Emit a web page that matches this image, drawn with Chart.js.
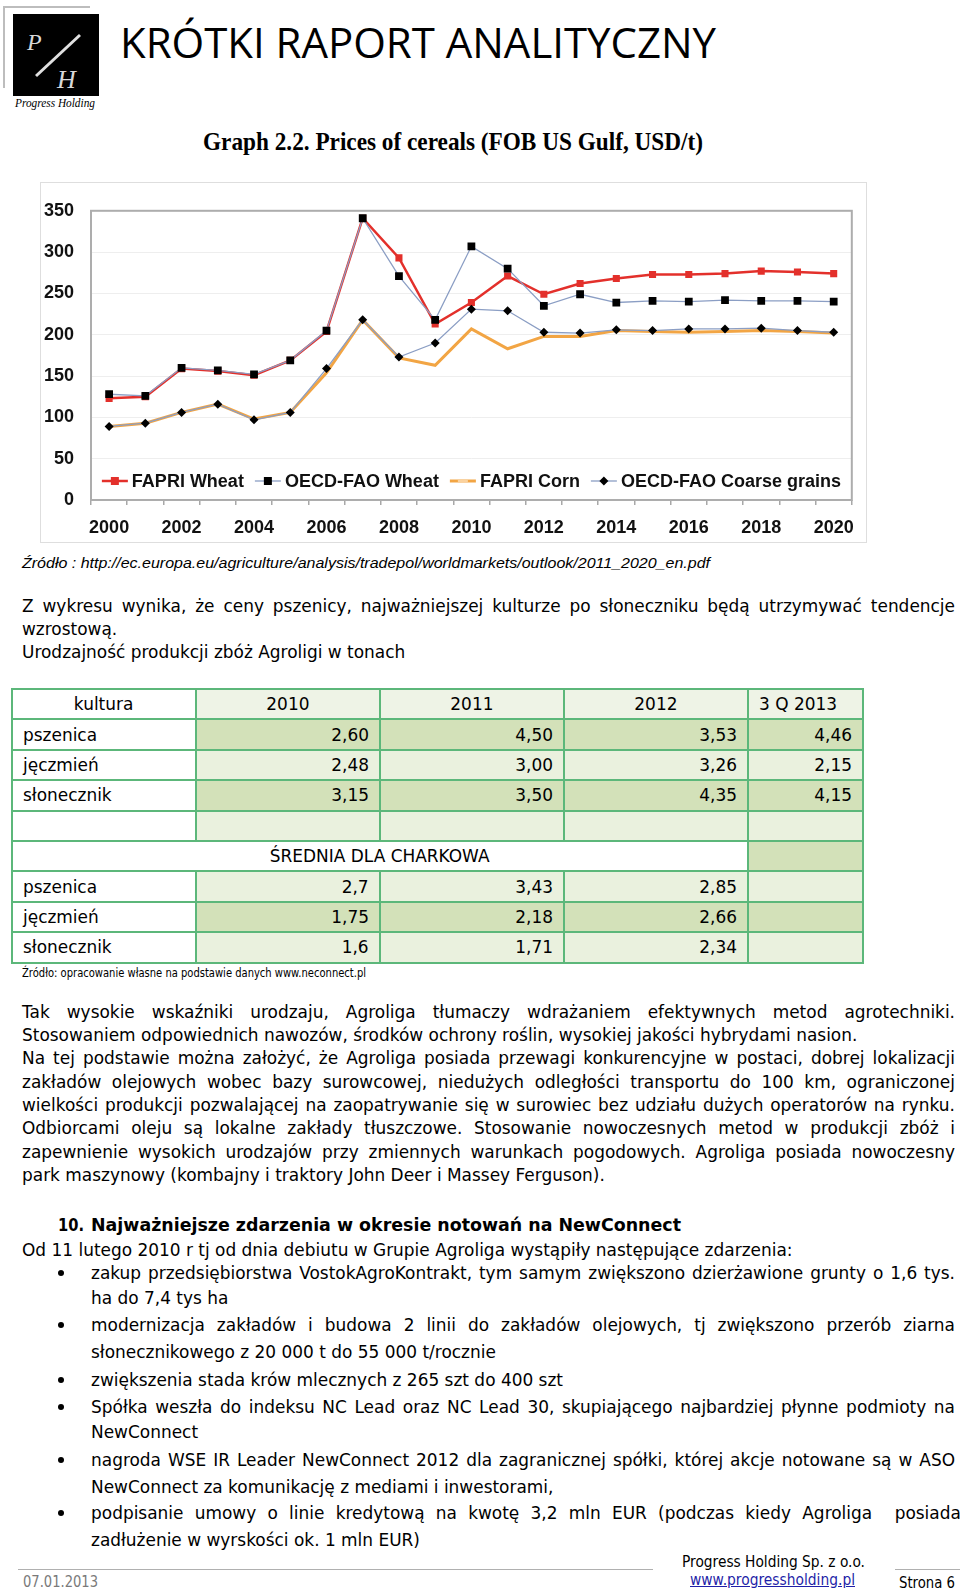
<!doctype html>
<html lang="pl">
<head>
  <meta charset="utf-8">
  <title>Krótki raport analityczny</title>
  <script src="https://cdn.jsdelivr.net/npm/chart.js"></script>
  <style>
    body { margin: 0; background: #fff; }
    #page { position: relative; width: 960px; height: 1593px; overflow: hidden; font-family: "DejaVu Sans", sans-serif; color: #000; }
    .ln, .fit { position: absolute; white-space: nowrap; line-height: 24px; font-size: 18px; transform-origin: 0 50%; }
    #chartbox { position: absolute; left: 40px; top: 182px; width: 827px; height: 361px; border: 1px solid #dedede; box-sizing: border-box; }
    #tbl { position: absolute; left: 11px; top: 688px; width: 851px; border-collapse: collapse; table-layout: fixed; font-size: 18px; }
    #tbl td { border: 2px solid #5cb77a; height: 28.4px; padding: 0 10px; white-space: nowrap; overflow: visible; line-height: 24px; }
    #tbl td span { display: inline-block; }
    #tbl td.w { background: #fff; }
    #tbl td.lt { background: #eaf1de; }
    #tbl td.dk { background: #d3e1b9; }
    #tbl td.hl { background: #eef3e6; }
    #tbl td.c { text-align: center; }
    #tbl td.c span { transform-origin: 50% 50%; }
    #tbl td.r { text-align: right; }
    #tbl td.r span { transform-origin: 100% 50%; }
    #tbl td.l span { transform-origin: 0 50%; }
    .bul { position: absolute; left: 58px; width: 6px; height: 6px; border-radius: 50%; background: #000; }
  </style>
</head>
<body>
<div id="page">

  <!-- naglowek -->
  <svg style="position:absolute;left:0;top:0" width="110" height="112">
    <polyline points="4,88 4,7 90,7" fill="none" stroke="#bdbdbd" stroke-width="2"/>
    <rect x="13" y="14" width="86" height="82" fill="#000"/>
    <text x="27" y="50" font-family="Liberation Serif" font-style="italic" font-size="24" fill="#d8d8d8">P</text>
    <line x1="80" y1="35" x2="36" y2="76" stroke="#e0e0e0" stroke-width="3"/>
    <text x="57" y="88" font-family="Liberation Serif" font-style="italic" font-size="26" fill="#d8d8d8">H</text>
  </svg>
  <div class="fit" data-fit="80" style="left:15px;top:91px;font-family:'Liberation Serif';font-style:italic;font-size:13px;">Progress Holding</div>
  <div class="fit" data-fit="596" style="left:120px;top:16px;line-height:52px;font-family:'Open Sans';font-size:42px;">KRÓTKI RAPORT ANALITYCZNY</div>

  <div class="fit" data-fit="500" style="left:203px;top:127px;line-height:30px;font-family:'Liberation Serif';font-weight:bold;font-size:25px;">Graph 2.2. Prices of cereals (FOB US Gulf, USD/t)</div>

  <div id="chartbox"><canvas id="chart_cereals" width="825" height="359"></canvas></div>

  <div class="fit" data-fit="688" style="left:22px;top:551px;font-family:'Liberation Sans';font-style:italic;font-size:15px;">Źródło : http://ec.europa.eu/agriculture/analysis/tradepol/worldmarkets/outlook/2011_2020_en.pdf</div>

  <div class="ln" data-w="933" style="left:22px;top:594px;">Z wykresu wynika, że ceny pszenicy, najważniejszej kulturze po słoneczniku będą utrzymywać tendencje</div>
  <div class="ln" style="left:22px;top:617px;">wzrostową.</div>
  <div class="ln" style="left:22px;top:640px;">Urodzajność produkcji zbóż Agroligi w tonach</div>

  <table id="tbl">
    <colgroup><col style="width:184px"><col style="width:184px"><col style="width:184px"><col style="width:184px"><col style="width:115px"></colgroup>
    <tr><td class="w c"><span>kultura</span></td><td class="hl c"><span>2010</span></td><td class="hl c"><span>2011</span></td><td class="hl c"><span>2012</span></td><td class="hl l"><span>3 Q 2013</span></td></tr>
    <tr><td class="w l"><span>pszenica</span></td><td class="dk r"><span>2,60</span></td><td class="dk r"><span>4,50</span></td><td class="dk r"><span>3,53</span></td><td class="dk r"><span>4,46</span></td></tr>
    <tr><td class="w l"><span>jęczmień</span></td><td class="lt r"><span>2,48</span></td><td class="lt r"><span>3,00</span></td><td class="lt r"><span>3,26</span></td><td class="lt r"><span>2,15</span></td></tr>
    <tr><td class="w l"><span>słonecznik</span></td><td class="dk r"><span>3,15</span></td><td class="dk r"><span>3,50</span></td><td class="dk r"><span>4,35</span></td><td class="dk r"><span>4,15</span></td></tr>
    <tr><td class="w l"><span>&nbsp;</span></td><td class="lt"></td><td class="lt"></td><td class="lt"></td><td class="lt"></td></tr>
    <tr><td class="w c" colspan="4"><span>ŚREDNIA DLA CHARKOWA</span></td><td class="dk"></td></tr>
    <tr><td class="w l"><span>pszenica</span></td><td class="lt r"><span>2,7</span></td><td class="lt r"><span>3,43</span></td><td class="lt r"><span>2,85</span></td><td class="lt"></td></tr>
    <tr><td class="w l"><span>jęczmień</span></td><td class="dk r"><span>1,75</span></td><td class="dk r"><span>2,18</span></td><td class="dk r"><span>2,66</span></td><td class="dk"></td></tr>
    <tr><td class="w l"><span>słonecznik</span></td><td class="lt r"><span>1,6</span></td><td class="lt r"><span>1,71</span></td><td class="lt r"><span>2,34</span></td><td class="lt"></td></tr>
  </table>

  <div class="fit" data-fit="344" style="left:22px;top:964px;line-height:18px;font-size:12px;">Źródło: opracowanie własne na podstawie danych www.neconnect.pl</div>

  <div class="ln" data-w="933" style="left:22px;top:1000px;">Tak wysokie wskaźniki urodzaju, Agroliga tłumaczy wdrażaniem efektywnych metod agrotechniki.</div>
  <div class="ln" style="left:22px;top:1023px;">Stosowaniem odpowiednich nawozów, środków ochrony roślin, wysokiej jakości hybrydami nasion.</div>
  <div class="ln" data-w="933" style="left:22px;top:1046px;">Na tej podstawie można założyć, że Agroliga posiada przewagi konkurencyjne w postaci, dobrej lokalizacji</div>
  <div class="ln" data-w="933" style="left:22px;top:1070px;">zakładów  olejowych wobec bazy surowcowej, niedużych odległości transportu do 100 km, ograniczonej</div>
  <div class="ln" data-w="933" style="left:22px;top:1093px;">wielkości produkcji pozwalającej na zaopatrywanie się w surowiec bez udziału dużych operatorów na rynku.</div>
  <div class="ln" data-w="933" style="left:22px;top:1116px;">Odbiorcami oleju są lokalne zakłady tłuszczowe. Stosowanie nowoczesnych metod w produkcji zbóż i</div>
  <div class="ln" data-w="933" style="left:22px;top:1140px;">zapewnienie wysokich urodzajów przy zmiennych warunkach pogodowych. Agroliga posiada nowoczesny</div>
  <div class="ln" style="left:22px;top:1163px;">park maszynowy (kombajny i traktory John Deer i Massey Ferguson).</div>

  <div class="fit" data-fit="26" style="left:58px;top:1213px;font-weight:bold;">10.</div>
  <div class="fit" data-fit="590" style="left:91px;top:1213px;font-weight:bold;">Najważniejsze zdarzenia w okresie notowań na NewConnect</div>
  <div class="ln" style="left:22px;top:1238px;">Od 11 lutego 2010 r tj od dnia debiutu w Grupie Agroliga wystąpiły następujące zdarzenia:</div>

  <div class="bul" style="top:1270px;"></div>
  <div class="ln" data-w="864" style="left:91px;top:1261px;">zakup przedsiębiorstwa VostokAgroKontrakt, tym samym zwiększono dzierżawione grunty o 1,6 tys.</div>
  <div class="ln" style="left:91px;top:1286px;">ha do 7,4 tys ha</div>
  <div class="bul" style="top:1322px;"></div>
  <div class="ln" data-w="864" style="left:91px;top:1313px;">modernizacja zakładów i budowa 2 linii do zakładów olejowych, tj zwiększono przerób ziarna</div>
  <div class="ln" style="left:91px;top:1340px;">słonecznikowego z 20 000 t do 55 000 t/rocznie</div>
  <div class="bul" style="top:1377px;"></div>
  <div class="ln" id="cal" style="left:91px;top:1368px;">zwiększenia stada krów mlecznych z 265 szt do 400 szt</div>
  <div class="bul" style="top:1404px;"></div>
  <div class="ln" data-w="864" style="left:91px;top:1395px;">Spółka weszła do indeksu NC Lead oraz NC Lead 30, skupiającego najbardziej płynne podmioty na</div>
  <div class="ln" style="left:91px;top:1420px;">NewConnect</div>
  <div class="bul" style="top:1457px;"></div>
  <div class="ln" data-w="864" style="left:91px;top:1448px;">nagroda WSE IR Leader NewConnect 2012 dla zagranicznej spółki, której akcje notowane są w ASO</div>
  <div class="ln" style="left:91px;top:1475px;">NewConnect za komunikację z mediami i inwestorami,</div>
  <div class="bul" style="top:1510px;"></div>
  <div class="ln" data-w="864" style="left:91px;top:1501px;">podpisanie umowy o linie kredytową na kwotę 3,2 mln EUR (podczas kiedy Agroliga&nbsp; posiada</div>
  <div class="ln" style="left:91px;top:1528px;">zadłużenie w wyrskości ok. 1 mln EUR)</div>

  <!-- stopka -->
  <div style="position:absolute;left:18px;top:1569px;width:635px;height:1px;background:#b0b0b0;"></div>
  <div style="position:absolute;left:895px;top:1569px;width:65px;height:1px;background:#b0b0b0;"></div>
  <div class="fit" data-fit="183" style="left:682px;top:1551px;line-height:22px;font-size:16px;">Progress Holding Sp. z o.o.</div>
  <div class="fit" data-fit="165" style="left:690px;top:1569px;line-height:22px;font-size:16px;color:#1f1fa8;text-decoration:underline;">www.progressholding.pl</div>
  <div class="fit" data-fit="75" style="left:23px;top:1571px;line-height:22px;font-size:16px;color:#7a7a7a;">07.01.2013</div>
  <div class="fit" data-fit="56" style="left:899px;top:1572px;line-height:22px;font-size:16px;">Strona 6</div>
</div>

<script>
  // dane (USD/t)
  const years = ['2000', '2001', '2002', '2003', '2004', '2005', '2006', '2007', '2008', '2009', '2010',
    '2011', '2012', '2013', '2014', '2015', '2016', '2017', '2018', '2019', '2020'];
  const series_names = ['FAPRI Wheat', 'OECD-FAO Wheat', 'FAPRI Corn', 'OECD-FAO Coarse grains'];
  const fapri_wheat = [123, 125, 159, 156, 151, 169, 204, 341, 293, 213, 239, 271, 249, 262, 268, 273, 273, 274, 277, 276, 274];
  const oecd_wheat = [128, 126, 160, 157, 152, 169, 205, 341, 271, 218, 307, 280, 235, 249, 239, 241, 240, 242, 241, 241, 240];
  const fapri_corn = [89, 93, 106, 116, 98, 106, 154, 218, 172, 163, 207, 183, 198, 198, 205, 204, 203, 204, 205, 204, 202];
  const oecd_coarse = [89, 93, 106, 116, 97, 106, 159, 218, 173, 190, 231, 229, 203, 202, 206, 205, 207, 207, 208, 205, 203];
  const y_ticks = [0, 50, 100, 150, 200, 250, 300, 350];

  // dopasowanie szerokosci tekstu do oryginalu
  function natural_width(el) {
    el.style.transform = 'none';
    return el.getBoundingClientRect().width;
  }

  const S = 472 / natural_width(document.getElementById('cal'));

  document.querySelectorAll('.ln').forEach((el) => {
    const w = natural_width(el);
    if (el.dataset.w) {
      const n = (el.textContent.trim().match(/\s+/g) || []).length;
      el.style.wordSpacing = ((+el.dataset.w / S - w) / n) + 'px';
    }
    el.style.transform = 'scaleX(' + S + ')';
  });

  document.querySelectorAll('.fit').forEach((el) => {
    const w = natural_width(el);
    el.style.transform = 'scaleX(' + (+el.dataset.fit / w) + ')';
  });

  document.querySelectorAll('#tbl td span').forEach((el) => { el.style.transform = 'scaleX(' + S + ')'; });

  const label_font = { family: '"Liberation Sans", Arial, sans-serif', size: 18, weight: 'bold' };

  const plot_frame = {
    id: 'plot_frame',
    beforeDatasetsDraw(chart) {
      const a = chart.chartArea, ctx = chart.ctx;
      ctx.save();
      ctx.strokeStyle = '#adadad';
      ctx.lineWidth = 2;
      ctx.strokeRect(a.left, a.top, a.right - a.left, a.bottom - a.top);
      ctx.restore();
    }
  };

  function draw_marker(ctx, style, x, y, color) {
    ctx.fillStyle = color;
    if (style === 'rect') ctx.fillRect(x - 4, y - 4, 8, 8);
    else if (style === 'rectRot') {
      ctx.beginPath(); ctx.moveTo(x, y - 4.5); ctx.lineTo(x + 4.5, y); ctx.lineTo(x, y + 4.5); ctx.lineTo(x - 4.5, y); ctx.closePath(); ctx.fill();
    } else if (style === 'dash') ctx.fillRect(x - 5, y - 1, 10, 2);
  }

  const inside_legend = {
    id: 'inside_legend',
    afterDraw(chart) {
      const a = chart.chartArea, ctx = chart.ctx;
      const sample = 26, gap = 4, sep = 11;
      ctx.save();
      ctx.font = 'bold 18px "Liberation Sans", Arial, sans-serif';
      const items = chart.data.datasets.map((ds) => ({ ds: ds, w: ctx.measureText(ds.label).width }));
      const total = items.reduce((s, it) => s + sample + gap + it.w, 0) + sep * (items.length - 1);
      let x = (a.left + a.right) / 2 - total / 2;
      const y = chart.scales.y.getPixelForValue(23);
      ctx.fillStyle = '#fff';
      ctx.fillRect(x - 4, y - 14, total + 8, 28);
      items.forEach((it) => {
        const ds = it.ds;
        ctx.strokeStyle = ds.borderColor;
        ctx.lineWidth = ds.borderWidth;
        ctx.beginPath(); ctx.moveTo(x, y); ctx.lineTo(x + sample, y); ctx.stroke();
        draw_marker(ctx, ds.legendMarker, x + sample / 2, y, ds.legendMarkerColor);
        ctx.fillStyle = '#111';
        ctx.textBaseline = 'middle';
        ctx.fillText(ds.label, x + sample + gap, y + 1);
        x += sample + gap + it.w + sep;
      });
      ctx.restore();
    }
  };

  const chart_cereals = new Chart(document.getElementById('chart_cereals'), {
    type: 'line',
    data: {
      labels: years,
      datasets: [
        { label: series_names[0], data: fapri_wheat, order: 3, borderColor: '#e3302b', borderWidth: 2.5, pointStyle: 'rect', pointRadius: 5, pointBackgroundColor: '#e3302b', pointBorderColor: '#e3302b', pointBorderWidth: 0, legendMarker: 'rect', legendMarkerColor: '#e3302b' },
        { label: series_names[1], data: oecd_wheat, order: 1, borderColor: '#8b9ec4', borderWidth: 1.3, pointStyle: 'rect', pointRadius: 5.5, pointBackgroundColor: '#000', pointBorderColor: '#000', pointBorderWidth: 0, legendMarker: 'rect', legendMarkerColor: '#000' },
        { label: series_names[2], data: fapri_corn, order: 4, borderColor: '#f2a544', borderWidth: 3, pointRadius: 0, legendMarker: 'dash', legendMarkerColor: '#fbd29e' },
        { label: series_names[3], data: oecd_coarse, order: 2, borderColor: '#8b9ec4', borderWidth: 1.3, pointStyle: 'rectRot', pointRadius: 4.5, pointBackgroundColor: '#000', pointBorderColor: '#000', pointBorderWidth: 0, legendMarker: 'rectRot', legendMarkerColor: '#000' }
      ]
    },
    options: {
      responsive: false,
      animation: false,
      layout: { padding: { left: 0, right: 12, top: 15, bottom: 0 } },
      plugins: { legend: { display: false }, tooltip: { enabled: false } },
      elements: { line: { tension: 0 } },
      scales: {
        x: {
          offset: true,
          grid: { offset: true, drawOnChartArea: false, drawTicks: true, tickLength: 5, color: '#a8a8a8', lineWidth: 1.5 },
          border: { display: false },
          ticks: {
            autoSkip: false, maxRotation: 0, padding: 12, color: '#111', font: label_font,
            callback: function (value, index) { return index % 2 === 0 ? this.getLabelForValue(value) : ''; }
          },
          afterFit: (scale) => { scale.height = 42; }
        },
        y: {
          min: y_ticks[0], max: y_ticks[y_ticks.length - 1],
          afterBuildTicks: (scale) => { scale.ticks = y_ticks.map((v) => ({ value: v })); },
          grid: { color: '#eeeeee', drawTicks: false },
          border: { display: false },
          ticks: { padding: 17, color: '#111', font: label_font },
          afterFit: (scale) => { scale.width = 50; }
        }
      }
    },
    plugins: [plot_frame, inside_legend]
  });
</script>
</body>
</html>
